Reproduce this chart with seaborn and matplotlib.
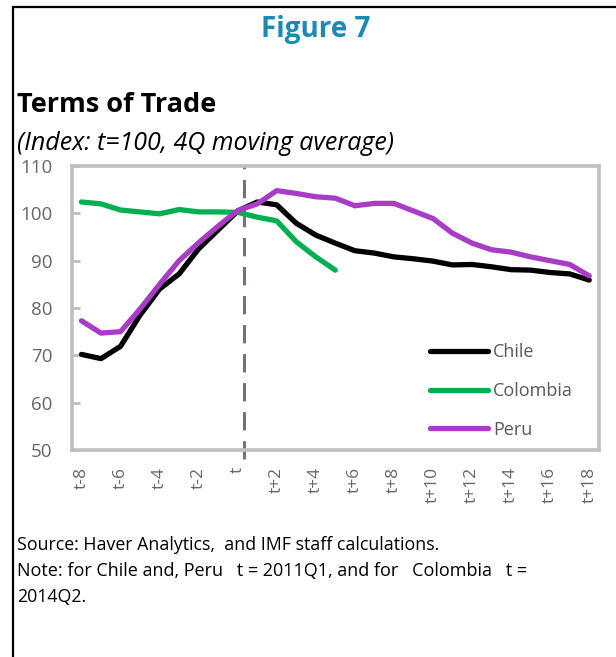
import numpy as np
import pandas as pd
import matplotlib
matplotlib.use("Agg")
import matplotlib.pyplot as plt
from matplotlib.lines import Line2D
import seaborn as sns

# ---- data ----
periods = ["t-8", "t-7", "t-6", "t-5", "t-4", "t-3", "t-2", "t-1", "t",
           "t+1", "t+2", "t+3", "t+4", "t+5", "t+6", "t+7", "t+8", "t+9",
           "t+10", "t+11", "t+12", "t+13", "t+14", "t+15", "t+16", "t+17", "t+18"]
chile = [70.2, 69.3, 71.9, 78.5, 84.0, 87.2, 92.5, 96.5, 100.5,
         102.4, 101.8, 97.9, 95.4, 93.7, 92.1, 91.6, 90.8, 90.4,
         89.9, 89.1, 89.2, 88.7, 88.1, 88.0, 87.5, 87.2, 85.9]
colombia = [102.4, 102.0, 100.7, 100.3, 99.9, 100.8, 100.3, 100.3, 100.2,
            99.2, 98.4, 94.0, 90.8, 88.0]
peru = [77.3, 74.7, 75.0, 79.8, 85.0, 90.0, 93.8, 97.3, 100.6,
        102.0, 104.8, 104.2, 103.5, 103.2, 101.6, 102.1, 102.1, 100.5,
        98.9, 95.8, 93.7, 92.3, 91.8, 90.8, 90.0, 89.2, 86.8]
countries = ["Chile", "Colombia", "Peru"]
tick_labels = periods[::2]
y_ticks = [50, 60, 70, 80, 90, 100, 110]
event_position = 8.3  # position of the dashed 't' reference line

colors = {"Chile": "#000000", "Colombia": "#00b050", "Peru": "#a83cc6"}

rows = []
for name, vals in zip(countries, [chile, colombia, peru]):
    for i, v in enumerate(vals):
        rows.append({"idx": i, "period": periods[i], "country": name, "value": v})
df = pd.DataFrame(rows)

# ---- style ----
sns.set_style("white")
plt.rcParams["font.family"] = ["Open Sans", "DejaVu Sans"]

W, H = 616, 657
fig = plt.figure(figsize=(W / 100, H / 100), dpi=100)
ax = fig.add_axes([71.7 / W, 1 - 450 / H, (599 - 71.7) / W, (450 - 166) / H])

sns.lineplot(data=df, x="idx", y="value", hue="country", hue_order=countries,
             palette=colors, linewidth=3.8, ax=ax, legend=False,
             estimator=None, sort=False)
for l in ax.get_lines():
    l.set_solid_capstyle("round")
    l.set_solid_joinstyle("round")

ax.axvline(event_position, ymin=-0.03, ymax=1, color="#7a7272", lw=2.2,
           dashes=(6, 3.5), clip_on=False, zorder=1)

ax.set_xlim(-0.5, len(periods) - 0.5)
ax.set_ylim(50, 110)
ax.set_xticks(range(0, len(periods), 2))
ax.set_xticklabels(tick_labels, rotation=90, fontsize=12.5, color="#666666",
                   va="top", ha="center")
ax.set_xticks(np.arange(1.5, len(periods) - 1, 2), minor=True)
ax.tick_params(axis="x", which="major", length=0, pad=12)
ax.tick_params(axis="x", which="minor", direction="in", length=5, width=2,
               color="#bfbfbf")
ax.set_yticks(y_ticks)
ax.set_yticklabels([str(v) for v in y_ticks], fontsize=13.5, color="#666666")
ax.tick_params(axis="y", direction="in", length=6, width=2, color="#bfbfbf",
               pad=14, left=True)
ax.set_xlabel("")
ax.set_ylabel("")
for s in ax.spines.values():
    s.set_visible(True)
    s.set_color("#bfbfbf")
    s.set_linewidth(2.6)

handles = [Line2D([0], [0], color=colors[c], lw=3.8, solid_capstyle="round")
           for c in countries]
leg = ax.legend(handles, countries, loc="center left",
                bbox_to_anchor=(430 / W, 1 - 391 / H), bbox_transform=fig.transFigure,
                frameon=False, fontsize=13, handlelength=3.2, handletextpad=0.3,
                labelspacing=1.15, borderpad=0, borderaxespad=0)
for t in leg.get_texts():
    t.set_color("#595959")

# ---- texts ----
fig.text(316 / W, 1 - 30 / H, "Figure 7", ha="center", va="center",
         fontsize=20, fontweight="bold", color="#1b8ab4")
fig.text(17 / W, 1 - 105 / H, "Terms of Trade", ha="left", va="center",
         fontsize=19.5, fontweight="bold", color="black")
fig.text(17 / W, 1 - 143 / H, "(Index: t=100, 4Q moving average)", ha="left",
         va="center", fontsize=18, style="italic", color="black")
fig.text(17 / W, 1 - 545 / H, "Source: Haver Analytics,  and IMF staff calculations.",
         ha="left", va="center", fontsize=12.8, color="black")
fig.text(17 / W, 1 - 571 / H, "Note: for Chile and, Peru   t = 2011Q1, and for   Colombia   t =",
         ha="left", va="center", fontsize=13, color="black")
fig.text(17 / W, 1 - 597 / H, "2014Q2.", ha="left", va="center", fontsize=12.8,
         color="black")

# frame
fig.add_artist(Line2D([12.5 / W, 12.5 / W], [0, 1 - 7 / H], transform=fig.transFigure,
                      color="black", lw=1.6))
fig.add_artist(Line2D([12.5 / W, 1], [1 - 7 / H, 1 - 7 / H], transform=fig.transFigure,
                      color="black", lw=1.6))

fig.savefig("out.png", dpi=100)
